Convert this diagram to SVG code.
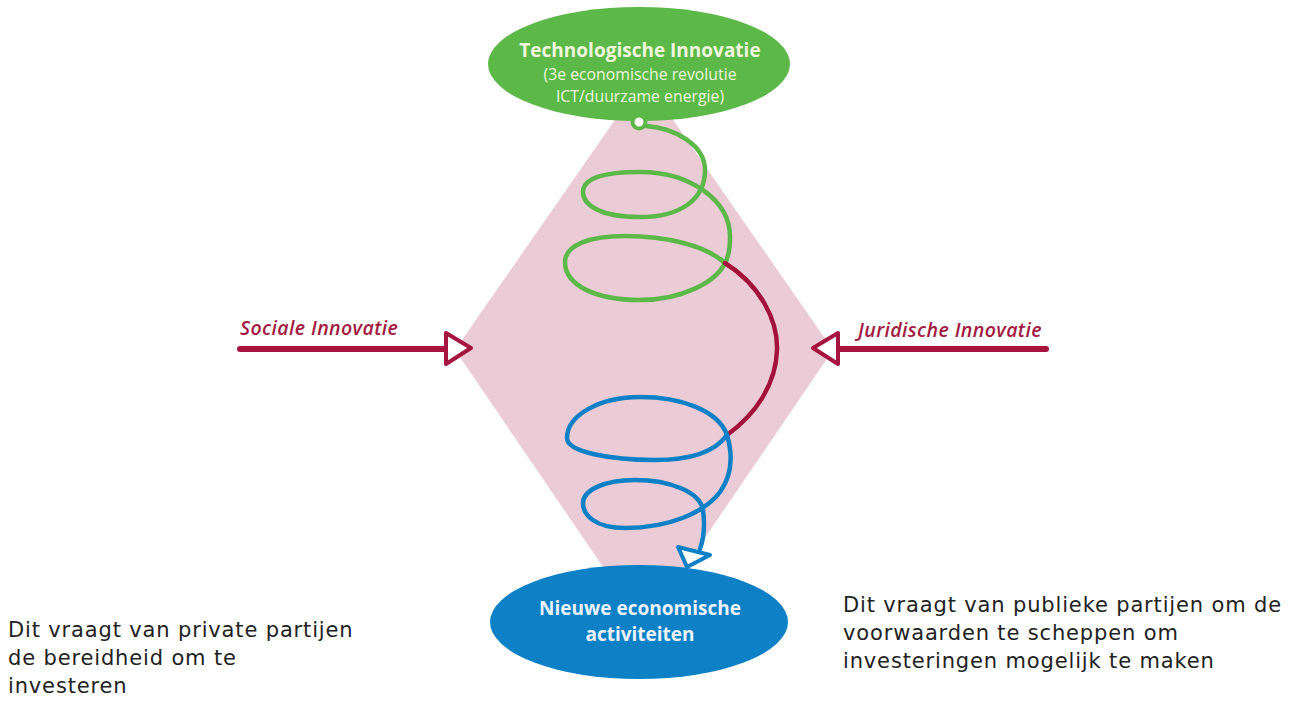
<svg xmlns="http://www.w3.org/2000/svg" width="1291" height="705" viewBox="0 0 1291 705">
<defs>
<style>
.spiral{fill:none;stroke-width:4.5;stroke-linecap:round;stroke-linejoin:round}
.inlabel{font-family:"Open Sans","Liberation Sans",sans-serif;text-anchor:middle}
.side{font-family:"Open Sans","Liberation Sans",sans-serif;font-style:italic;font-weight:600;font-size:19.5px;letter-spacing:0.4px;fill:#a31a42}
.note{font-family:"DejaVu Sans","Liberation Sans",sans-serif;font-size:21px;letter-spacing:0.85px;fill:#222}
.redline{stroke:#a6153f;stroke-width:6;stroke-linecap:round;fill:none}
.redtri{fill:#fff;stroke:#a6153f;stroke-width:4;stroke-linejoin:round}
</style>
</defs>
<rect width="1291" height="705" fill="#fff"/>
<polygon id="diamond" points="644,78 833,350 644,627 455,350" fill="#ebcbd5"/>
<g id="connectors">
<path class="spiral" stroke="#5cb848" d="M646,126 C675,128 705,145 705,170 C705,200 680,217 640,217 C600,217 583,205 583,192 C583,178 605,172 640,172 C690,172 730,200 730,237 C730,250 728,258 725,263 C716,282 682,300 640,300 C595,300 565,285 565,262 C565,245 590,236 625,236 C665,236 705,245 725,263"/>
<path class="spiral" stroke="#a3123c" stroke-width="3.5" d="M725,263 C760,285 778,320 777,350 C776,385 755,415 727,435"/>
<path class="spiral" stroke="#0d80c6" d="M727,435 C715,452 690,460 655,460 C610,460 567,452 567,438 C567,415 600,397 640,397 C680,397 718,410 727,435 C733,455 732,475 720,492 C705,512 670,528 625,528 C595,528 583,515 583,503 C583,490 605,480 635,480 C670,480 700,492 703,510 C705,525 704,538 700,549"/>
<line class="redline" x1="240" y1="349" x2="444" y2="349"/>
<polygon class="redtri" points="446,333 446,364 471,348"/>
<line class="redline" x1="1046" y1="349" x2="840" y2="349"/>
<polygon class="redtri" points="838,333 838,364 813,348"/>
</g>
<g id="node-tech">
<ellipse cx="639" cy="64" rx="151" ry="57" fill="#5cb848"/>
<circle cx="639" cy="122" r="6.5" fill="#fff" stroke="#5cb848" stroke-width="4"/>
<text class="inlabel" x="640" y="57" font-size="19" font-weight="bold" fill="#eef6dc">Technologische Innovatie</text>
<text class="inlabel" x="640" y="80" font-size="15.8" fill="#eef6dc">(3e economische revolutie</text>
<text class="inlabel" x="640" y="102" font-size="15.8" fill="#eef6dc">ICT/duurzame energie)</text>
</g>
<g id="node-nieuw">
<ellipse cx="639" cy="622" rx="149" ry="57" fill="#0d80c6"/>
<polygon points="678,547 710,555 687,567" fill="#fff" stroke="#0d80c6" stroke-width="4" stroke-linejoin="round"/>
<text class="inlabel" x="640" y="615" font-size="19" font-weight="bold" fill="#eaf3fb">Nieuwe economische</text>
<text class="inlabel" x="640" y="641" font-size="19" font-weight="bold" fill="#eaf3fb">activiteiten</text>
</g>
<g id="label-sociaal">
<text class="side" x="240" y="335">Sociale Innovatie</text>
</g>
<g id="label-juridisch">
<text class="side" x="858" y="337">Juridische Innovatie</text>
</g>
<g id="note-left">
<text class="note" x="8" y="637">Dit vraagt van private partijen</text>
<text class="note" x="8" y="665">de bereidheid om te</text>
<text class="note" x="8" y="693">investeren</text>
</g>
<g id="note-right">
<text class="note" x="843" y="612">Dit vraagt van publieke partijen om de</text>
<text class="note" x="843" y="640">voorwaarden te scheppen om</text>
<text class="note" x="843" y="668">investeringen mogelijk te maken</text>
</g>
</svg>
